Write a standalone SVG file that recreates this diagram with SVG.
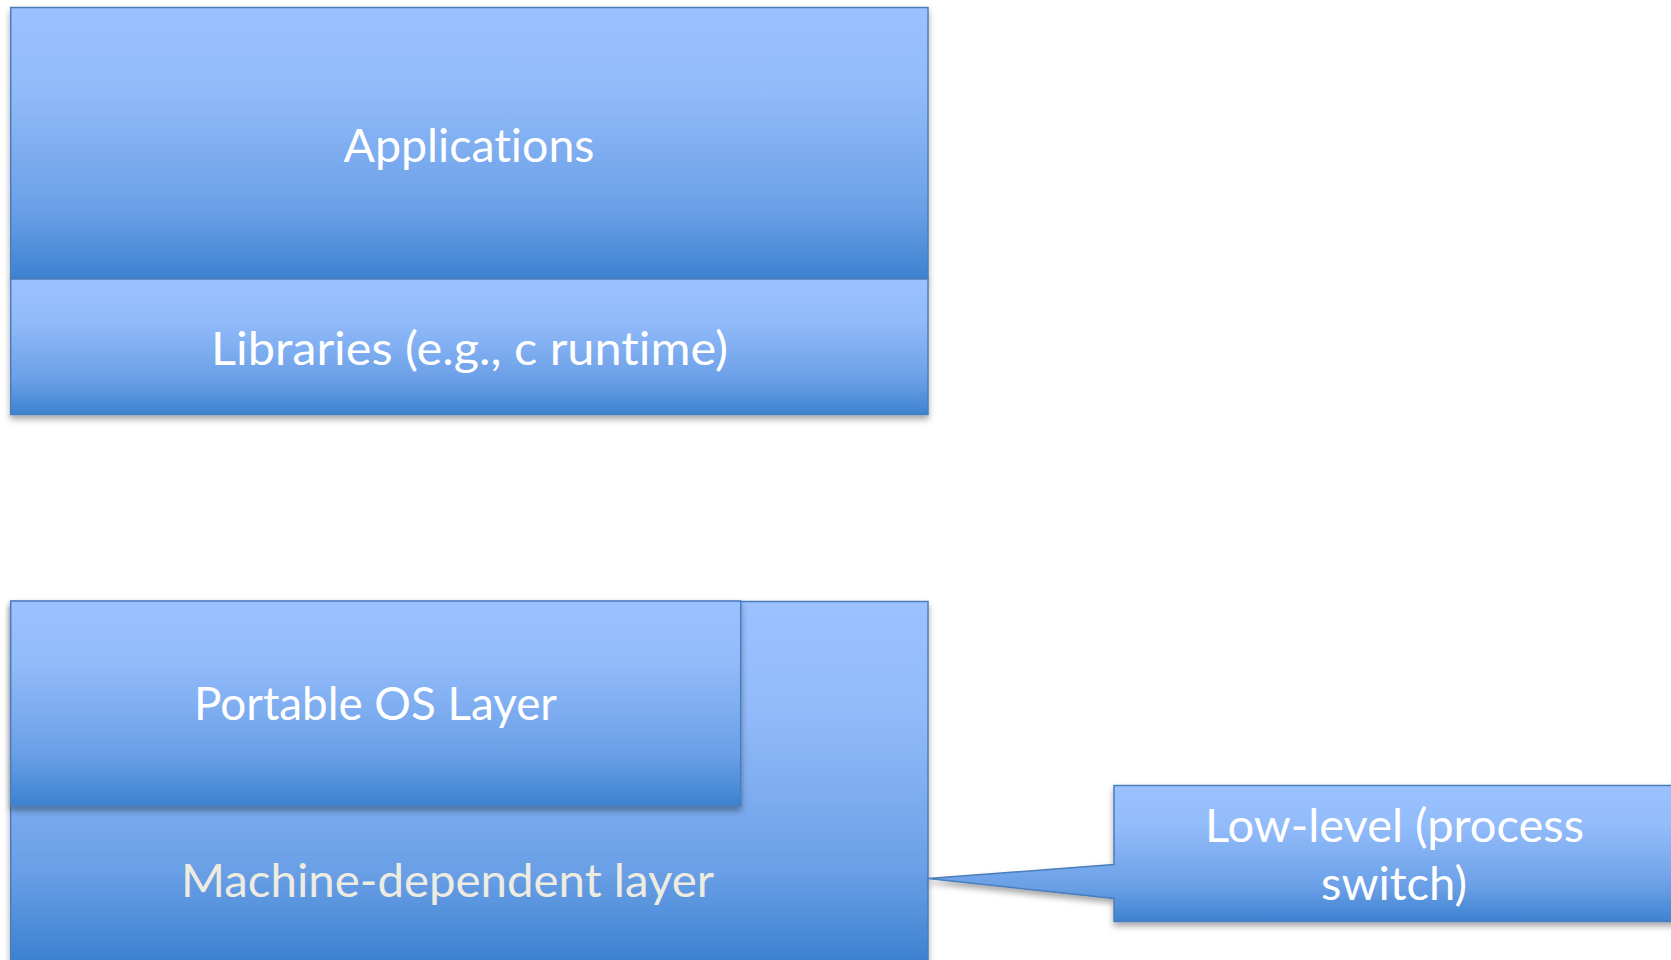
<svg xmlns="http://www.w3.org/2000/svg" width="1671" height="960" viewBox="0 0 1671 960">
  <style>
    .box { stroke: #4A7EBB; stroke-width: 1.5; fill: url(#blueGrad); filter: url(#shadow); }
    .lbl { font-family: Lato, "Open Sans", "Liberation Sans", sans-serif; font-size: 46px; fill: #FFFFFF; text-anchor: middle; font-variant-ligatures: none; font-feature-settings: "liga" 0, "clig" 0; }
    .lbl2 { fill: #EEECE1; }
  </style>
  <defs>
    <linearGradient id="blueGrad" x1="0" y1="0" x2="0" y2="1">
      <stop offset="0" stop-color="#9BC2FF"/>
      <stop offset="0.3" stop-color="#92BBFA"/>
      <stop offset="0.75" stop-color="#6A9FE6"/>
      <stop offset="1" stop-color="#3C82D0"/>
    </linearGradient>
    <filter id="shadow" x="-5%" y="-5%" width="110%" height="120%">
      <feDropShadow dx="0" dy="4" stdDeviation="3" flood-color="#000000" flood-opacity="0.35"/>
    </filter>
  </defs>

  <g id="applications">
    <rect class="box" x="10.7" y="7.5" width="917.3" height="271.5"/>
    <text class="lbl" x="469" y="162" textLength="251" lengthAdjust="spacingAndGlyphs">Applications</text>
  </g>

  <g id="libraries">
    <rect class="box" x="10.7" y="279" width="917.3" height="135.5"/>
    <text class="lbl" x="469.5" y="364.5" textLength="517" lengthAdjust="spacingAndGlyphs">Libraries (e.g., c runtime)</text>
  </g>

  <g id="machine-dependent">
    <rect class="box" x="10.7" y="601.5" width="917.3" height="360"/>
    <text class="lbl lbl2" x="447.5" y="897" textLength="533" lengthAdjust="spacingAndGlyphs">Machine-dependent layer</text>
  </g>

  <g id="portable-os">
    <rect class="box" x="10.7" y="601" width="730" height="205"/>
    <text class="lbl" x="375.5" y="720" textLength="363" lengthAdjust="spacingAndGlyphs">Portable OS Layer</text>
  </g>

  <g id="connectors"></g>

  <g id="low-level">
    <path class="box" d="M1114,785.5 H1685 V921.5 H1114 V898.5 L928,878.5 L1114,864.5 Z"/>
    <text class="lbl" x="1394.5" y="842" textLength="379" lengthAdjust="spacingAndGlyphs">Low-level (process</text>
    <text class="lbl" x="1394" y="900" textLength="146" lengthAdjust="spacingAndGlyphs">switch)</text>
  </g>
</svg>
